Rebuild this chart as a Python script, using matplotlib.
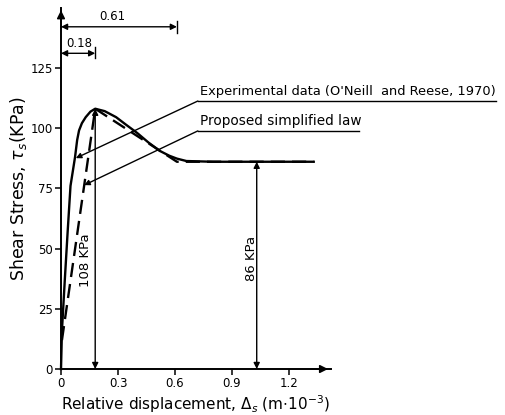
import matplotlib
matplotlib.use('Agg')
import matplotlib.pyplot as plt

# experimental curve (O'Neill and Reese, 1970)
exp_x = [0, 0.005, 0.02, 0.035, 0.05, 0.074, 0.085, 0.095, 0.11, 0.13, 0.155, 0.18,
         0.23, 0.29, 0.34, 0.40, 0.46, 0.52, 0.57, 0.61, 0.66, 0.8, 1.0, 1.2, 1.33]
exp_y = [0, 16, 37, 57, 76, 88, 95, 99, 102, 104.5, 106.8, 108,
         107, 104.5, 101.5, 98, 94, 90.5, 88.5, 87.3, 86.3, 86, 86, 86, 86]

# proposed simplified law
prop_x = [0.005, 0.18, 0.61, 1.33]
prop_y = [12, 108, 86, 86]

x_ticks = [0, 0.3, 0.6, 0.9, 1.2]
x_ticklabels = ['0', '0.3', '0.6', '0.9', '1.2']
y_ticks = [0, 25, 50, 75, 100, 125]
y_ticklabels = ['0', '25', '50', '75', '100', '125']

peak_x, peak_y = 0.18, 108
resid_x, resid_y = 1.03, 86
disp_peak, disp_resid = 0.18, 0.61

fig = plt.figure(figsize=(5.05, 4.15), dpi=100)
ax = fig.add_axes([0.1208, 0.1108, 0.5343, 0.8711])
ax.set_xlim(0, 1.42)
ax.set_ylim(0, 150)
for s in ['top', 'right']:
    ax.spines[s].set_visible(False)
for s in ['left', 'bottom']:
    ax.spines[s].set_linewidth(1.4)

ax.set_xticks(x_ticks)
ax.set_xticklabels(x_ticklabels)
ax.set_yticks(y_ticks)
ax.set_yticklabels(y_ticklabels)
ax.tick_params(direction='out', length=4, width=1.1, labelsize=8.5, pad=2)
ax.set_xlabel(r'Relative displacement, $\Delta_s$ (m$\cdot$10$^{-3}$)', fontsize=11, labelpad=2)
ax.set_ylabel(r'Shear Stress, $\tau_s$(KPa)', fontsize=12.5, labelpad=1)

arr = dict(arrowstyle='-|>', color='k', lw=1.1, mutation_scale=12)
# axis arrow heads
ax.annotate('', xy=(1.42, 0), xytext=(1.30, 0), arrowprops=arr, annotation_clip=False)
ax.annotate('', xy=(0, 150), xytext=(0, 140), arrowprops=arr, annotation_clip=False)

# curves
ax.plot(exp_x, exp_y, color='k', lw=1.7, clip_on=False)
ax.plot(prop_x, prop_y, color='k', lw=1.7, ls=(0, (6, 3)), clip_on=False)

dbl = dict(arrowstyle='<|-|>', color='k', lw=1.0, mutation_scale=9, shrinkA=0, shrinkB=0)
# vertical stress arrows
ax.annotate('', xy=(peak_x, peak_y), xytext=(peak_x, 0), arrowprops=dbl)
ax.annotate('', xy=(resid_x, resid_y), xytext=(resid_x, 0), arrowprops=dbl)
ax.text(0.13, 45, '108 KPa', rotation=90, ha='center', va='center', fontsize=9.5)
ax.text(1.0, 46, '86 KPa', rotation=90, ha='center', va='center', fontsize=9.5)

# displacement dimensions
ax.annotate('', xy=(disp_resid, 142), xytext=(0, 142), arrowprops=dbl, annotation_clip=False)
ax.plot([disp_resid, disp_resid], [139.5, 144.5], color='k', lw=1.0, clip_on=False)
ax.text(0.27, 143.5, '0.61', ha='center', va='bottom', fontsize=8.5)
ax.annotate('', xy=(disp_peak, 131), xytext=(0, 131), arrowprops=dbl, annotation_clip=False)
ax.plot([disp_peak, disp_peak], [129, 133.5], color='k', lw=1.0, clip_on=False)
ax.text(0.095, 132.3, '0.18', ha='center', va='bottom', fontsize=8.5)

# leaders and labels
lead = dict(arrowstyle='-|>', color='k', lw=1.0, mutation_scale=8, shrinkA=0, shrinkB=0)
ax.annotate('', xy=(0.078, 87.5), xytext=(0.72, 111.2), arrowprops=lead, annotation_clip=False)
ax.plot([0.72, 2.29], [111.2, 111.2], color='k', lw=1.0, clip_on=False)
ax.text(0.73, 112.3, "Experimental data (O'Neill  and Reese, 1970)", ha='left', va='bottom', fontsize=9.4)
ax.annotate('', xy=(0.122, 76.3), xytext=(0.72, 98.8), arrowprops=lead, annotation_clip=False)
ax.plot([0.72, 1.57], [98.8, 98.8], color='k', lw=1.0, clip_on=False)
ax.text(0.73, 99.9, 'Proposed simplified law', ha='left', va='bottom', fontsize=9.8)

fig.savefig('out.png', dpi=100)
